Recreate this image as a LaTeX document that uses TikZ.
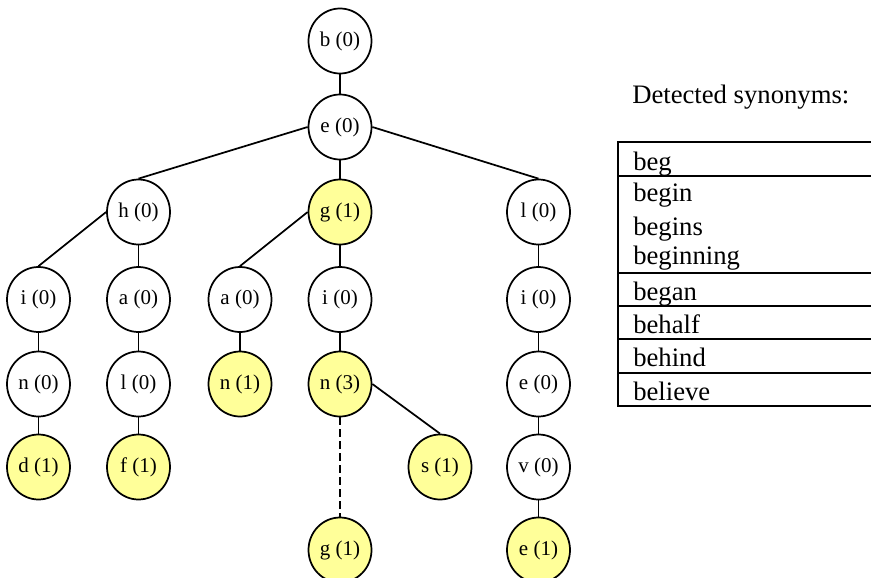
\documentclass[tikz,border=0pt]{standalone}
\usepackage{fontspec}
\setmainfont{Liberation Serif}
\usetikzlibrary{shapes.geometric}
\definecolor{hitfill}{RGB}{255,255,153}
\tikzset{
  trienode/.style={ellipse, draw=black, line width=1.3pt, minimum width=47.25pt,
    minimum height=48.75pt, inner sep=0pt, font=\fontsize{15.75}{18}\selectfont},
  hit/.style={trienode, fill=hitfill},
  link/.style={line width=1.3pt},
  wordtext/.style={anchor=base west, inner sep=0pt, font=\fontsize{20}{24}\selectfont},
  rule/.style={line width=1.4pt}
}
\begin{document}
\begin{tikzpicture}[x=0.75pt, y=-0.75pt]
\useasboundingbox (0,0) rectangle (871,578);

% trie nodes
\node[trienode] (b)  at (340,41)    {b (0)};
\node[trienode] (e)  at (340,127)   {e (0)};
\node[trienode] (h)  at (138.5,212) {h (0)};
\node[hit]      (g1) at (340,212)   {g (1)};
\node[trienode] (l)  at (538.5,212) {l (0)};
\node[trienode] (i1) at (38.5,299.5)  {i (0)};
\node[trienode] (a1) at (138.5,299.5) {a (0)};
\node[trienode] (a2) at (240,299.5)   {a (0)};
\node[trienode] (i2) at (340,299.5)   {i (0)};
\node[trienode] (i3) at (538.5,299.5) {i (0)};
\node[trienode] (n1) at (38.5,384)  {n (0)};
\node[trienode] (l2) at (138.5,384) {l (0)};
\node[hit]      (n2) at (240,384)   {n (1)};
\node[hit]      (n3) at (340,384)   {n (3)};
\node[trienode] (e2) at (538.5,384) {e (0)};
\node[hit]      (d)  at (38.5,467)  {d (1)};
\node[hit]      (f)  at (138.5,467) {f (1)};
\node[hit]      (s)  at (440,467)   {s (1)};
\node[trienode] (v)  at (538.5,467) {v (0)};
\node[hit]      (g2) at (340,550)   {g (1)};
\node[hit]      (e3) at (538.5,550) {e (1)};

% edges
\draw[link] (b) -- (e);
\draw[link] (e.west) -- (h.north);
\draw[link] (e) -- (g1);
\draw[link] (e.east) -- (l.north);
\draw[link] (h.west) -- (i1.north);
\draw[link] (h) -- (a1);
\draw[link] (g1.west) -- (a2.north);
\draw[link] (g1) -- (i2);
\draw[link] (l) -- (i3);
\draw[link] (i1) -- (n1);
\draw[link] (n1) -- (d);
\draw[link] (a1) -- (l2);
\draw[link] (l2) -- (f);
\draw[link] (a2) -- (n2);
\draw[link] (i2) -- (n3);
\draw[link] (n3.east) -- (s.north);
\draw[link, dash pattern=on 6pt off 3pt] (n3) -- (g2);
\draw[link] (i3) -- (e2);
\draw[link] (e2) -- (v);
\draw[link] (v) -- (e3);

% synonym list
\node[wordtext] (title) at (632,103) {Detected synonyms:};
\coordinate (tl) at (618,141.7);
\coordinate (tr) at (871,141.7);
\coordinate (bl) at (618,406);
\coordinate (br) at (871,406);
\draw[rule] (tr) -- (tl) -- (bl) -- (br);
\foreach \yy in {176,272.7,306,339.3,373.3} {
  \draw[rule] (618,\yy) -- (871,\yy);
}
\node[wordtext] (w1) at (633,170)   {beg};
\node[wordtext] (w2) at (633,201.7) {begin};
\node[wordtext] (w3) at (633,235)   {begins};
\node[wordtext] (w4) at (633,264)   {beginning};
\node[wordtext] (w5) at (633,300)   {began};
\node[wordtext] (w6) at (633,333)   {behalf};
\node[wordtext] (w7) at (633,366.7) {behind};
\node[wordtext] (w8) at (633,400)   {believe};
\end{tikzpicture}
\end{document}
